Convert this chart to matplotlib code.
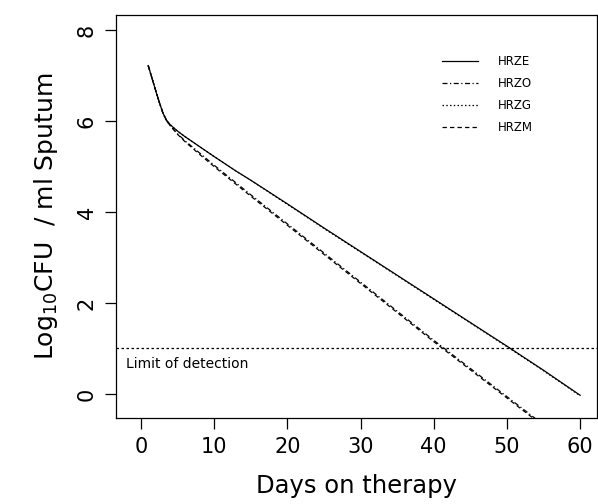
import matplotlib
matplotlib.use("Agg")
import matplotlib.pyplot as plt

plt.rcParams['font.family'] = ['DejaVu Sans']

days = [1, 1.5, 2, 2.5, 3, 3.5, 4, 5, 6, 8, 10, 13, 15, 20, 25, 30, 35, 40, 45, 50, 55, 60]

hrze = [7.22, 6.95, 6.68, 6.42, 6.18, 6.02, 5.92, 5.78, 5.66, 5.44, 5.22, 4.90, 4.70, 4.18, 3.65, 3.13, 2.61, 2.09, 1.57, 1.05, 0.52, -0.03]
hrzg = [7.22, 6.95, 6.68, 6.42, 6.18, 6.02, 5.92, 5.78, 5.66, 5.44, 5.22, 4.90, 4.70, 4.17, 3.64, 3.12, 2.60, 2.08, 1.56, 1.04, 0.51, -0.04]
hrzo = [7.22, 6.95, 6.68, 6.42, 6.18, 6.01, 5.90, 5.72, 5.57, 5.30, 5.03, 4.64, 4.38, 3.74, 3.10, 2.46, 1.82, 1.18, 0.56, -0.06, -0.68, -1.30]
hrzm = [7.22, 6.95, 6.68, 6.42, 6.18, 6.01, 5.90, 5.71, 5.55, 5.27, 5.00, 4.61, 4.35, 3.71, 3.07, 2.43, 1.79, 1.15, 0.53, -0.09, -0.71, -1.33]

series_names = ['HRZE', 'HRZO', 'HRZG', 'HRZM']
limit_of_detection = 1.0

xticks = [0, 10, 20, 30, 40, 50, 60]
yticks = [0, 2, 4, 6, 8]

fig = plt.figure(figsize=(5.98, 5.04), dpi=100)
ax = fig.add_axes([0.194, 0.1706, 0.8043, 0.7994])

styles = {
    'HRZE': '-',
    'HRZO': (0, (4, 2, 1, 2)),
    'HRZG': (0, (1.2, 1.8)),
    'HRZM': (0, (3.5, 2.5)),
}
data = {'HRZE': hrze, 'HRZO': hrzo, 'HRZG': hrzg, 'HRZM': hrzm}

handles = []
for name in series_names:
    h, = ax.plot(days, data[name], color='black', lw=0.9, linestyle=styles[name], label=name)
    handles.append(h)

# limit of detection
ax.axhline(limit_of_detection, color='black', lw=0.9, linestyle=(0, (2, 2)))
ax.text(-2.1, 0.66, 'Limit of detection', fontsize=10, va='center', ha='left')

ax.set_xlim(-3.4, 62.3)
ax.set_ylim(-0.53, 8.33)
ax.set_xticks(xticks)
ax.set_yticks(yticks)
ax.tick_params(axis='both', length=8, width=0.9, labelsize=15, pad=6)
for lab in ax.get_yticklabels():
    lab.set_rotation(90)
    lab.set_va('center')

for s in ax.spines.values():
    s.set_linewidth(0.9)

ax.set_xlabel('Days on therapy', fontsize=17.5, labelpad=12)
ax.set_ylabel('Log$_{10}$CFU  / ml Sputum', fontsize=18, labelpad=12)

ax.legend(handles=handles, loc='upper left', bbox_to_anchor=(0.678, 0.90), frameon=False,
          borderaxespad=0, borderpad=0, fontsize=8.5, handlelength=3.0,
          handletextpad=1.7, labelspacing=0.75)

fig.savefig('out.png', dpi=100)
